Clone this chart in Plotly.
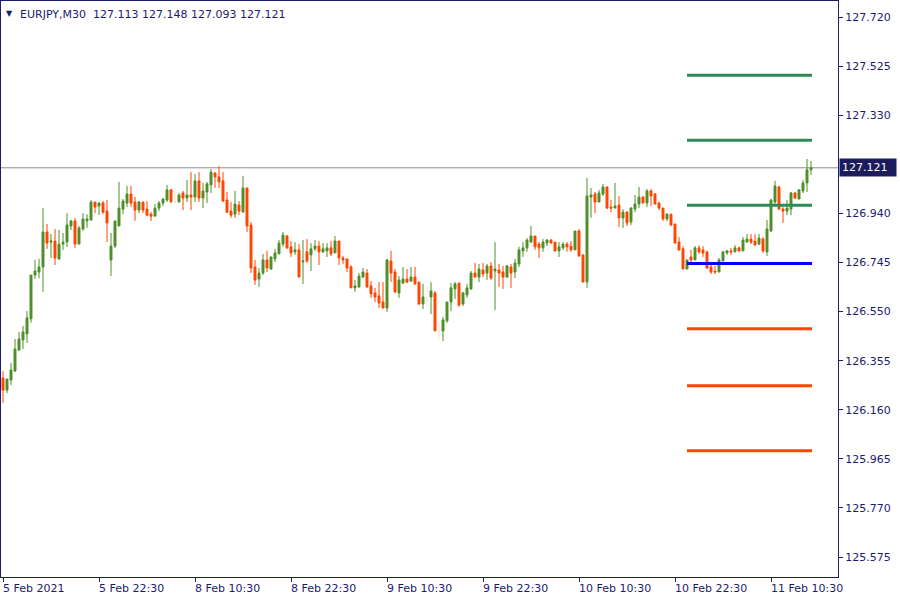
import plotly.graph_objects as go

# ---------------- data ----------------
symbol_title = "EURJPY,M30"
header_ohlc = ["127.113", "127.148", "127.093", "127.121"]
current_price = 127.121

tick_idx = [0, 24, 48, 72, 96, 120, 144, 168, 192]
tick_text = ["5 Feb 2021", "5 Feb 22:30", "8 Feb 10:30", "8 Feb 22:30", "9 Feb 10:30",
             "9 Feb 22:30", "10 Feb 10:30", "10 Feb 22:30", "11 Feb 10:30"]

price_ticks = [127.720, 127.525, 127.330, 126.940, 126.745, 126.550,
               126.355, 126.160, 125.965, 125.770, 125.575]

opens = [
    126.286, 126.238, 126.278, 126.314, 126.397, 126.437, 126.461, 126.521, 126.695, 126.707,
    126.727, 126.866, 126.826, 126.830, 126.759, 126.818, 126.826, 126.890, 126.910, 126.818,
    126.878, 126.910, 126.914, 126.985, 126.969, 126.981, 126.949, 126.755, 126.810, 126.890,
    126.957, 126.981, 127.017, 126.985, 126.953, 126.985, 126.957, 126.937, 126.929, 126.961,
    126.981, 126.993, 127.033, 126.985, 126.985, 127.021, 127.001, 127.013, 127.005, 127.069,
    127.001, 127.025, 127.053, 127.100, 127.085, 127.069, 126.993, 126.949, 126.937, 126.973,
    126.945, 127.041, 126.894, 126.727, 126.679, 126.703, 126.755, 126.719, 126.759, 126.779,
    126.818, 126.850, 126.807, 126.787, 126.795, 126.747, 126.787, 126.775, 126.799, 126.810,
    126.787, 126.791, 126.803, 126.783, 126.830, 126.763, 126.759, 126.727, 126.644, 126.648,
    126.687, 126.703, 126.652, 126.624, 126.612, 126.588, 126.564, 126.751, 126.707, 126.624,
    126.663, 126.679, 126.671, 126.687, 126.667, 126.580, 126.600, 126.608, 126.624, 126.473,
    126.473, 126.513, 126.588, 126.640, 126.663, 126.580, 126.616, 126.640, 126.703, 126.687,
    126.715, 126.703, 126.731, 126.711, 126.715, 126.707, 126.687, 126.727, 126.707, 126.739,
    126.791, 126.803, 126.826, 126.850, 126.818, 126.803, 126.822, 126.834, 126.826, 126.791,
    126.803, 126.818, 126.810, 126.795, 126.870, 126.775, 126.667, 127.005, 127.017, 126.985,
    127.017, 127.045, 126.965, 126.961, 126.973, 126.922, 126.945, 126.906, 126.957, 126.977,
    127.005, 126.981, 127.029, 127.017, 126.981, 126.961, 126.918, 126.937, 126.898, 126.826,
    126.799, 126.719, 126.767, 126.755, 126.803, 126.795, 126.787, 126.727, 126.711, 126.707,
    126.751, 126.783, 126.791, 126.787, 126.803, 126.791, 126.826, 126.838, 126.830, 126.818,
    126.838, 126.787, 126.870, 126.985, 127.045, 126.957, 126.949, 126.957, 127.021, 126.997,
    127.029, 127.061, 127.113,
]
highs = [
    126.314, 126.282, 126.346, 126.441, 126.469, 126.493, 126.552, 126.695, 126.755, 126.759,
    126.961, 126.898, 126.858, 126.878, 126.874, 126.862, 126.941, 126.914, 126.922, 126.890,
    126.941, 126.937, 126.993, 126.985, 126.985, 126.989, 126.993, 126.862, 126.910, 127.065,
    126.997, 127.049, 127.049, 127.005, 126.989, 126.985, 126.989, 126.945, 126.977, 126.989,
    127.001, 127.053, 127.037, 127.037, 127.021, 127.029, 127.073, 127.104, 127.096, 127.104,
    127.061, 127.065, 127.116, 127.104, 127.128, 127.104, 127.025, 126.985, 127.029, 126.989,
    127.089, 127.041, 126.906, 126.755, 126.723, 126.779, 126.791, 126.767, 126.799, 126.834,
    126.866, 126.854, 126.830, 126.826, 126.818, 126.834, 126.838, 126.822, 126.834, 126.830,
    126.822, 126.822, 126.830, 126.850, 126.830, 126.771, 126.759, 126.735, 126.675, 126.703,
    126.723, 126.719, 126.671, 126.644, 126.667, 126.667, 126.759, 126.791, 126.719, 126.691,
    126.727, 126.719, 126.727, 126.727, 126.667, 126.660, 126.648, 126.667, 126.632, 126.509,
    126.529, 126.588, 126.663, 126.667, 126.663, 126.628, 126.660, 126.711, 126.743, 126.739,
    126.743, 126.739, 126.747, 126.826, 126.739, 126.731, 126.735, 126.739, 126.759, 126.807,
    126.826, 126.842, 126.890, 126.850, 126.826, 126.838, 126.838, 126.838, 126.826, 126.826,
    126.826, 126.826, 126.830, 126.870, 126.878, 126.775, 127.081, 127.041, 127.025, 127.033,
    127.057, 127.045, 126.993, 127.061, 127.009, 126.957, 126.949, 126.965, 127.013, 127.045,
    127.009, 127.037, 127.037, 127.021, 126.985, 126.961, 126.941, 126.937, 126.898, 126.846,
    126.810, 126.755, 126.795, 126.810, 126.814, 126.810, 126.791, 126.735, 126.731, 126.763,
    126.791, 126.795, 126.803, 126.814, 126.807, 126.846, 126.858, 126.858, 126.858, 126.858,
    126.846, 126.914, 126.997, 127.069, 127.049, 126.965, 126.993, 127.025, 127.025, 127.037,
    127.073, 127.156, 127.148,
]
lows = [
    126.187, 126.226, 126.258, 126.310, 126.393, 126.401, 126.425, 126.505, 126.679, 126.683,
    126.628, 126.799, 126.763, 126.735, 126.755, 126.795, 126.807, 126.874, 126.803, 126.818,
    126.870, 126.882, 126.910, 126.941, 126.933, 126.937, 126.826, 126.691, 126.803, 126.890,
    126.937, 126.965, 126.965, 126.910, 126.941, 126.941, 126.929, 126.910, 126.929, 126.949,
    126.969, 126.985, 126.985, 126.985, 126.985, 126.953, 126.985, 126.953, 126.985, 126.985,
    126.961, 126.981, 127.021, 127.041, 127.041, 126.985, 126.941, 126.922, 126.922, 126.933,
    126.945, 126.866, 126.703, 126.656, 126.648, 126.695, 126.707, 126.715, 126.747, 126.779,
    126.807, 126.799, 126.767, 126.775, 126.687, 126.660, 126.743, 126.711, 126.791, 126.735,
    126.783, 126.767, 126.771, 126.783, 126.735, 126.739, 126.707, 126.644, 126.628, 126.644,
    126.683, 126.644, 126.604, 126.588, 126.564, 126.564, 126.548, 126.667, 126.624, 126.604,
    126.660, 126.663, 126.667, 126.656, 126.576, 126.560, 126.572, 126.540, 126.473, 126.437,
    126.433, 126.505, 126.552, 126.600, 126.568, 126.572, 126.604, 126.636, 126.687, 126.667,
    126.687, 126.675, 126.675, 126.556, 126.648, 126.640, 126.683, 126.644, 126.683, 126.727,
    126.767, 126.787, 126.822, 126.795, 126.763, 126.787, 126.810, 126.822, 126.787, 126.767,
    126.795, 126.787, 126.787, 126.795, 126.767, 126.667, 126.644, 126.922, 126.941, 126.985,
    127.009, 126.957, 126.945, 126.961, 126.886, 126.882, 126.890, 126.894, 126.945, 126.961,
    126.981, 126.965, 126.969, 126.977, 126.953, 126.910, 126.910, 126.890, 126.822, 126.791,
    126.719, 126.719, 126.739, 126.755, 126.779, 126.767, 126.719, 126.699, 126.699, 126.707,
    126.751, 126.775, 126.775, 126.787, 126.787, 126.791, 126.826, 126.818, 126.814, 126.814,
    126.783, 126.771, 126.866, 126.969, 126.953, 126.902, 126.933, 126.933, 126.997, 126.997,
    127.021, 127.025, 127.093,
]
closes = [
    126.238, 126.282, 126.318, 126.401, 126.441, 126.469, 126.525, 126.695, 126.711, 126.727,
    126.866, 126.822, 126.830, 126.763, 126.818, 126.826, 126.894, 126.910, 126.818, 126.882,
    126.918, 126.918, 126.985, 126.965, 126.981, 126.945, 126.902, 126.810, 126.910, 126.961,
    126.989, 127.017, 126.981, 126.953, 126.985, 126.953, 126.933, 126.929, 126.961, 126.981,
    126.997, 127.033, 126.985, 126.985, 127.013, 127.001, 127.013, 127.005, 127.069, 127.001,
    127.029, 127.057, 127.104, 127.085, 127.065, 126.989, 126.945, 126.933, 126.977, 126.949,
    127.041, 126.890, 126.723, 126.675, 126.703, 126.755, 126.723, 126.767, 126.783, 126.822,
    126.854, 126.803, 126.783, 126.795, 126.687, 126.751, 126.751, 126.799, 126.810, 126.787,
    126.799, 126.803, 126.779, 126.830, 126.763, 126.755, 126.723, 126.644, 126.652, 126.691,
    126.707, 126.648, 126.620, 126.608, 126.584, 126.564, 126.755, 126.703, 126.628, 126.675,
    126.679, 126.667, 126.687, 126.660, 126.580, 126.608, 126.600, 126.632, 126.473, 126.473,
    126.517, 126.588, 126.644, 126.660, 126.576, 126.624, 126.644, 126.703, 126.687, 126.719,
    126.699, 126.731, 126.683, 126.719, 126.703, 126.687, 126.731, 126.703, 126.743, 126.795,
    126.803, 126.834, 126.850, 126.807, 126.803, 126.826, 126.834, 126.822, 126.791, 126.807,
    126.818, 126.807, 126.795, 126.870, 126.771, 126.667, 127.009, 127.013, 126.985, 127.021,
    127.045, 126.961, 126.961, 126.969, 126.922, 126.945, 126.902, 126.961, 126.977, 127.005,
    126.981, 127.029, 127.009, 126.977, 126.961, 126.918, 126.937, 126.894, 126.822, 126.795,
    126.719, 126.755, 126.755, 126.803, 126.787, 126.783, 126.723, 126.707, 126.707, 126.755,
    126.787, 126.791, 126.787, 126.803, 126.791, 126.834, 126.838, 126.826, 126.814, 126.842,
    126.791, 126.878, 126.993, 127.049, 126.957, 126.949, 126.961, 127.021, 127.001, 127.033,
    127.061, 127.113, 127.121,
]
doji_idx = [43, 106, 109]

level_values = [127.489, 127.230, 126.972, 126.741, 126.482, 126.255, 125.997]
level_colors = ["#2E8B57", "#2E8B57", "#2E8B57", "#0000FF", "#FF4500", "#FF4500", "#FF4500"]
level_start_idx = 171
level_end_idx = 202

# ---------------- styling ----------------
UP = "#4E8F2A"
DOWN = "#FF4500"
PALE = "#F6E2CC"
FG = "#1C1C6E"
FONT = "DejaVu Sans"

n = len(opens)
main_x = [i for i in range(n) if i not in doji_idx]

fig = go.Figure()
fig.add_trace(go.Candlestick(
    x=main_x,
    open=[opens[i] for i in main_x], high=[highs[i] for i in main_x],
    low=[lows[i] for i in main_x], close=[closes[i] for i in main_x],
    increasing=dict(line=dict(color=UP, width=1), fillcolor=UP),
    decreasing=dict(line=dict(color=DOWN, width=1), fillcolor=DOWN),
    whiskerwidth=0, hoverinfo="skip", showlegend=False,
))
fig.add_trace(go.Candlestick(
    x=doji_idx,
    open=[opens[i] for i in doji_idx], high=[highs[i] for i in doji_idx],
    low=[lows[i] for i in doji_idx], close=[closes[i] for i in doji_idx],
    increasing=dict(line=dict(color=PALE, width=1), fillcolor=PALE),
    decreasing=dict(line=dict(color=PALE, width=1), fillcolor=PALE),
    whiskerwidth=0, hoverinfo="skip", showlegend=False,
))

for val, col in zip(level_values, level_colors):
    fig.add_trace(go.Scatter(
        x=[level_start_idx, level_end_idx + 0.25], y=[val, val], mode="lines",
        line=dict(color=col, width=3), hoverinfo="skip", showlegend=False,
    ))

# current price line
fig.add_shape(type="line", xref="paper", x0=0, x1=1, y0=current_price, y1=current_price,
              line=dict(color="#8C8C8C", width=1), layer="below")

annotations = []
for ti, tt in zip(tick_idx, tick_text):
    annotations.append(dict(x=ti, y=0, xref="x", yref="paper", text=tt, showarrow=False,
                            xanchor="left", yanchor="top", yshift=-3, xshift=-2,
                            font=dict(family=FONT, size=11, color=FG)))
annotations.append(dict(x=1, y=current_price, xref="paper", yref="y",
                        text="%.3f" % current_price, showarrow=False,
                        xanchor="left", yanchor="middle", xshift=1,
                        bgcolor="#1C1C5C", borderpad=2, width=52, align="left",
                        font=dict(family=FONT, size=11, color="white")))
annotations.append(dict(x=0, y=1, xref="paper", yref="paper", text="▼", showarrow=False,
                        xanchor="left", yanchor="top", xshift=3, yshift=-6,
                        font=dict(family=FONT, size=8, color=FG)))
annotations.append(dict(x=0, y=1, xref="paper", yref="paper",
                        text=symbol_title + "  " + " ".join(header_ohlc), showarrow=False,
                        xanchor="left", yanchor="top", xshift=17, yshift=-5,
                        font=dict(family=FONT, size=11, color=FG)))

fig.update_layout(
    width=900, height=600,
    margin=dict(l=1, r=62, t=1, b=23),
    paper_bgcolor="white", plot_bgcolor="white",
    boxgap=0.3,
    showlegend=False,
    annotations=annotations,
    xaxis=dict(range=[-0.5, 208.75], showgrid=False, zeroline=False,
               rangeslider=dict(visible=False),
               tickmode="array", tickvals=tick_idx, ticktext=[""] * len(tick_idx),
               ticks="outside", ticklen=4, tickcolor=FG,
               showline=True, linecolor=FG, linewidth=1, mirror=True),
    yaxis=dict(range=[125.4956, 127.7836], side="right", showgrid=False, zeroline=False,
               tickmode="array", tickvals=price_ticks,
               ticktext=["%.3f" % v for v in price_ticks],
               ticks="outside", ticklen=4, tickcolor=FG,
               tickfont=dict(family=FONT, size=11, color=FG),
               showline=True, linecolor=FG, linewidth=1, mirror=True),
)

fig.write_html("out.html", config={"displayModeBar": False},
               post_script="document.body.style.margin='0';document.body.style.overflow='hidden';")
